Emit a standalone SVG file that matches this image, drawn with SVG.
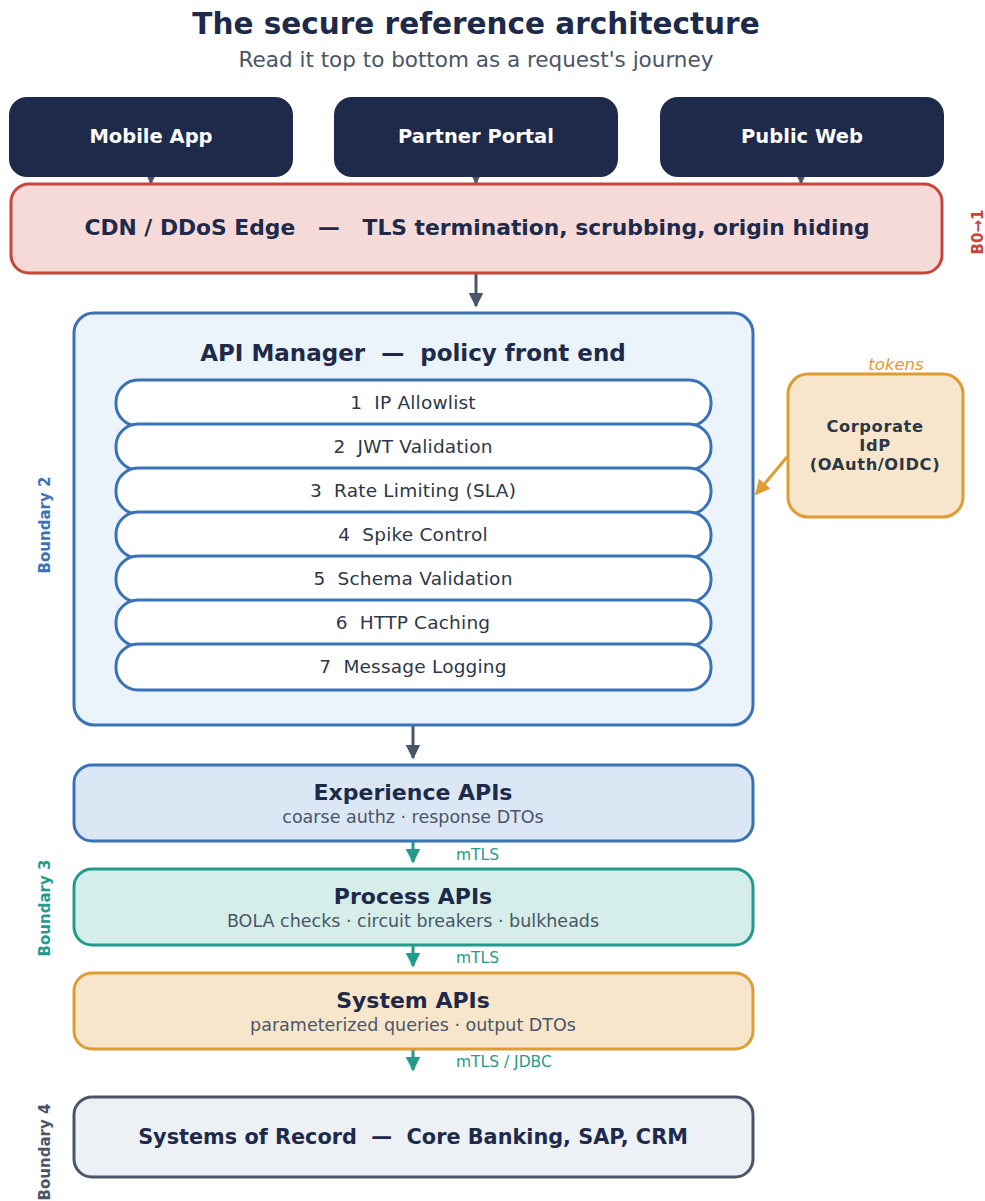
<svg xmlns="http://www.w3.org/2000/svg" width="985" height="1201" viewBox="0 0 985 1201">
  <style>
    text { font-family: "DejaVu Sans", "Liberation Sans", sans-serif; }
    .title { font-size: 29.5px; font-weight: bold; fill: #1e2a4a; }
    .subtitle { font-size: 21.5px; fill: #4a5568; }
    .client rect { fill: #1e2a4a; }
    .client text { font-size: 19.5px; font-weight: bold; fill: #ffffff; }
    .head { font-weight: bold; fill: #1e2a4a; white-space: pre; }
    .note { font-size: 17.5px; fill: #4a5568; }
    .policy rect { fill: #ffffff; stroke: #3a72b8; stroke-width: 3; }
    .policy text { font-size: 18.5px; fill: #2d3748; white-space: pre; letter-spacing: 0.2px; }
    .bnd { font-size: 15px; font-weight: bold; }
    .lbl { font-size: 15.5px; fill: #239b8c; }
    .idp { font-size: 16.3px; font-weight: bold; fill: #2d3748; letter-spacing: 0.6px; }
    .flow { stroke: #4a5568; stroke-width: 3; fill: none; }
    .mtls { stroke: #239b8c; stroke-width: 3; fill: none; }
  </style>
  <defs>
    <marker id="ahGray" viewBox="0 0 10 10" refX="9" refY="5" markerWidth="5" markerHeight="5" orient="auto" markerUnits="strokeWidth">
      <path d="M0,0 L10,5 L0,10 Z" fill="#4a5568"/>
    </marker>
    <marker id="ahTeal" viewBox="0 0 10 10" refX="9" refY="5" markerWidth="5" markerHeight="5" orient="auto" markerUnits="strokeWidth">
      <path d="M0,0 L10,5 L0,10 Z" fill="#239b8c"/>
    </marker>
    <marker id="ahGold" viewBox="0 0 10 10" refX="9" refY="5" markerWidth="5" markerHeight="5" orient="auto" markerUnits="strokeWidth">
      <path d="M0,0 L10,5 L0,10 Z" fill="#e09c32"/>
    </marker>
  </defs>

  <rect width="985" height="1201" fill="#ffffff"/>

  <!-- heading -->
  <text class="title" x="476" y="34" text-anchor="middle">The secure reference architecture</text>
  <text class="subtitle" x="476" y="67" text-anchor="middle">Read it top to bottom as a request's journey</text>

  <!-- connectors -->
  <g id="connectors">
    <line class="flow" x1="151" y1="177" x2="151" y2="183" stroke-width="2" marker-end="url(#ahGray)"/>
    <line class="flow" x1="476" y1="177" x2="476" y2="183" stroke-width="2" marker-end="url(#ahGray)"/>
    <line class="flow" x1="801" y1="177" x2="801" y2="183" stroke-width="2" marker-end="url(#ahGray)"/>
    <line class="flow" x1="476" y1="274" x2="476" y2="306" marker-end="url(#ahGray)"/>
    <line x1="787" y1="457" x2="756" y2="494" stroke="#e09c32" stroke-width="3" marker-end="url(#ahGold)"/>
    <line class="flow" x1="413" y1="726" x2="413" y2="758" marker-end="url(#ahGray)"/>
    <line class="mtls" x1="413" y1="842" x2="413" y2="862" marker-end="url(#ahTeal)"/>
    <text class="lbl" x="456" y="860">mTLS</text>
    <line class="mtls" x1="413" y1="946" x2="413" y2="966" marker-end="url(#ahTeal)"/>
    <text class="lbl" x="456" y="963">mTLS</text>
    <line class="mtls" x1="413" y1="1050" x2="413" y2="1070" marker-end="url(#ahTeal)"/>
    <text class="lbl" x="456" y="1067">mTLS / JDBC</text>
  </g>

  <!-- clients -->
  <g id="mobile-app" class="client">
    <rect x="9" y="97" width="284" height="80" rx="18"/>
    <text x="151" y="143" text-anchor="middle">Mobile App</text>
  </g>
  <g id="partner-portal" class="client">
    <rect x="334" y="97" width="284" height="80" rx="18"/>
    <text x="476" y="143" text-anchor="middle">Partner Portal</text>
  </g>
  <g id="public-web" class="client">
    <rect x="660" y="97" width="284" height="80" rx="18"/>
    <text x="802" y="143" text-anchor="middle">Public Web</text>
  </g>

  <!-- edge -->
  <g id="cdn-edge">
    <rect x="11" y="184" width="931" height="89" rx="18" fill="#f6dad8" stroke="#c8453a" stroke-width="3"/>
    <text class="head" x="477" y="235" text-anchor="middle" font-size="21.8">CDN / DDoS Edge   —   TLS termination, scrubbing, origin hiding</text>
  </g>
  <text class="bnd" fill="#c8453a" transform="translate(983,232) rotate(-90)" text-anchor="middle">B0→1</text>

  <!-- API manager -->
  <g id="api-manager">
    <rect x="74" y="313" width="679" height="412" rx="20" fill="#ebf3fb" stroke="#3a72b8" stroke-width="3"/>
    <text class="head" x="413" y="361" text-anchor="middle" font-size="23">API Manager  —  policy front end</text>
  </g>
  <g id="policies" class="policy">
    <g id="p1"><rect x="116" y="380" width="595" height="46" rx="22"/><text x="413" y="409" text-anchor="middle">1  IP Allowlist</text></g>
    <g id="p2"><rect x="116" y="424" width="595" height="46" rx="22"/><text x="413" y="453" text-anchor="middle">2  JWT Validation</text></g>
    <g id="p3"><rect x="116" y="468" width="595" height="46" rx="22"/><text x="413" y="497" text-anchor="middle">3  Rate Limiting (SLA)</text></g>
    <g id="p4"><rect x="116" y="512" width="595" height="46" rx="22"/><text x="413" y="541" text-anchor="middle">4  Spike Control</text></g>
    <g id="p5"><rect x="116" y="556" width="595" height="46" rx="22"/><text x="413" y="585" text-anchor="middle">5  Schema Validation</text></g>
    <g id="p6"><rect x="116" y="600" width="595" height="46" rx="22"/><text x="413" y="629" text-anchor="middle">6  HTTP Caching</text></g>
    <g id="p7"><rect x="116" y="644" width="595" height="46" rx="22"/><text x="413" y="673" text-anchor="middle">7  Message Logging</text></g>
  </g>
  <text class="bnd" fill="#3a72b8" transform="translate(50,525) rotate(-90)" text-anchor="middle">Boundary 2</text>

  <!-- identity provider -->
  <g id="corporate-idp">
    <rect x="788" y="374" width="175" height="143" rx="20" fill="#f7e6cc" stroke="#e09c32" stroke-width="3"/>
    <text class="idp" x="875" y="432" text-anchor="middle">Corporate</text>
    <text class="idp" x="875" y="451" text-anchor="middle">IdP</text>
    <text class="idp" x="875" y="470" text-anchor="middle">(OAuth/OIDC)</text>
    <text x="896" y="370" text-anchor="middle" font-size="16.5" font-style="italic" fill="#e09c32">tokens</text>
  </g>

  <!-- API layers -->
  <g id="experience-apis">
    <rect x="74" y="765" width="679" height="76" rx="18" fill="#dce7f5" stroke="#3a72b8" stroke-width="3"/>
    <text class="head" x="413" y="800" text-anchor="middle" font-size="22">Experience APIs</text>
    <text class="note" x="413" y="823" text-anchor="middle">coarse authz · response DTOs</text>
  </g>
  <g id="process-apis">
    <rect x="74" y="869" width="679" height="76" rx="18" fill="#d5eeea" stroke="#239b8c" stroke-width="3"/>
    <text class="head" x="413" y="904" text-anchor="middle" font-size="22">Process APIs</text>
    <text class="note" x="413" y="927" text-anchor="middle">BOLA checks · circuit breakers · bulkheads</text>
  </g>
  <text class="bnd" fill="#239b8c" transform="translate(50,908) rotate(-90)" text-anchor="middle">Boundary 3</text>
  <g id="system-apis">
    <rect x="74" y="973" width="679" height="76" rx="18" fill="#f7e6cc" stroke="#e09c32" stroke-width="3"/>
    <text class="head" x="413" y="1008" text-anchor="middle" font-size="22">System APIs</text>
    <text class="note" x="413" y="1031" text-anchor="middle">parameterized queries · output DTOs</text>
  </g>

  <!-- backends -->
  <g id="systems-of-record">
    <rect x="74" y="1097" width="679" height="80" rx="18" fill="#edf0f5" stroke="#4a5568" stroke-width="3"/>
    <text class="head" x="413" y="1144" text-anchor="middle" font-size="20.8" fill="#2d3748">Systems of Record  —  Core Banking, SAP, CRM</text>
  </g>
  <text class="bnd" fill="#4a5568" transform="translate(50,1152) rotate(-90)" text-anchor="middle">Boundary 4</text>
</svg>
